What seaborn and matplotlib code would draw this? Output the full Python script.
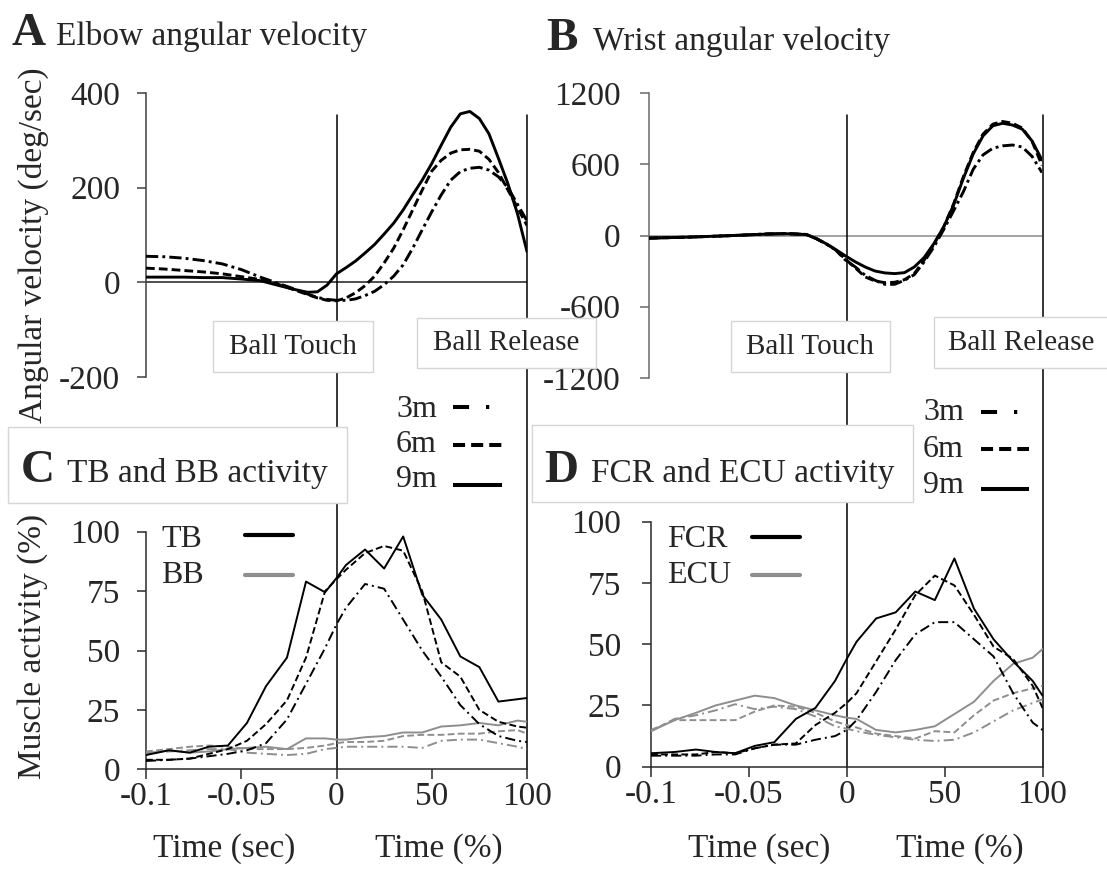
import matplotlib
matplotlib.use("Agg")
import matplotlib.pyplot as plt
import pandas as pd
import seaborn as sns
from matplotlib.patches import Rectangle
from matplotlib.lines import Line2D
from matplotlib.transforms import blended_transform_factory

sns.set_theme(style="white")
plt.rcParams["font.family"] = ["Liberation Serif", "DejaVu Serif"]
plt.rcParams["axes.unicode_minus"] = False
plt.rcParams["axes.facecolor"] = "none"

# ---------------- data ----------------
# time axis: negative part = seconds before ball touch (x1000, so -100 = -0.1 s),
# 0..100 = % of the phase between ball touch and ball release
distances = ["3m", "6m", "9m"]
event_times = [0, 100]
event_labels = ["Ball Touch", "Ball Release"]

vel_time = [-100, -90, -80, -70, -60, -50, -40, -30, -20, -15, -10, -5,
            0, 5, 10, 15, 20, 25, 30, 35, 40, 45, 50, 55, 60, 65, 70, 75, 80, 85, 90, 95, 100]

elbow_3m = [55, 54, 51, 46, 39, 27, 11, -3, -17, -25, -32, -36,
            -38, -38, -35, -28, -19, -5, 13, 37, 72, 111, 149, 185, 216, 234, 241, 243, 237, 223, 200, 165, 130]
elbow_6m = [30, 28, 25, 22, 18, 12, 6, -5, -19, -26, -33, -38,
            -39, -33, -22, -7, 13, 41, 72, 111, 153, 195, 235, 258, 273, 280, 281, 277, 260, 232, 195, 158, 120]
elbow_9m = [11, 11, 11, 10, 10, 7, 3.5, -7, -17, -21, -20, -6,
            18, 31, 45, 62, 80, 102, 125, 153, 185, 216, 251, 290, 328, 356, 361, 346, 314, 262, 208, 145, 65]

wrist_3m = [-22, -18, -14, -8, -2, 5, 13, 16, 9, -26, -70, -122,
            -208, -265, -335, -377, -411, -411, -377, -330, -222, -96, 51, 208, 369, 558, 679, 735, 755, 762, 745, 665, 530]
wrist_6m = [-22, -18, -14, -8, -2, 5, 13, 16, 9, -24, -68, -120,
            -200, -273, -349, -383, -397, -394, -372, -321, -208, -73, 73, 265, 496, 699, 854, 938, 960, 945, 905, 790, 590]
wrist_9m = [-22, -18, -14, -8, -2, 5, 12, 15, 8, -25, -68, -118,
            -172, -222, -265, -299, -315, -321, -313, -265, -186, -68, 73, 256, 482, 687, 839, 924, 945, 930, 895, 795, 635]

emg_time = [-100, -88, -77, -67, -57, -47, -37, -26, -16, -6, 0,
            5, 15, 25, 35, 45, 55, 65, 75, 85, 95, 100]

tb_3m = [3.5, 4, 4.5, 5.5, 6.5, 8, 11, 21, 36, 51, 61, 68, 78, 76, 63, 50, 39, 27, 19, 14, 12, 11.5]
tb_6m = [4, 4, 4.5, 6.5, 8.5, 12, 19, 29, 47, 75, 80, 84, 91, 94, 92, 75, 45, 39, 25, 20, 18, 17.5]
tb_9m = [6, 8, 7, 9.5, 10, 19.5, 35, 47, 79, 74.5, 80.5, 86, 92.5, 84.5, 98, 73.5, 63, 47.5, 43, 28.5, 29.5, 30]
bb_3m = [7, 7.5, 8, 8.5, 8.5, 7, 6.5, 6, 6.5, 8.5, 9, 9.5, 9.5, 9.5, 9.5, 9, 12, 12.5, 12.5, 11, 9.5, 8.5]
bb_6m = [7.5, 8.5, 9.5, 10, 9.5, 8.5, 8.5, 8.5, 9, 10, 11, 11.5, 11.5, 12, 14, 14.5, 14.5, 15, 15, 16, 16.5, 15]
bb_9m = [6.5, 8, 7, 7.5, 8.5, 9, 9.5, 8.5, 13, 13, 12.5, 12.5, 13.5, 14, 15.5, 15.5, 18, 18.5, 19.5, 18.5, 20.5, 20]

fcr_3m = [4.5, 4.5, 4.5, 5, 5, 7.5, 9, 9, 11, 12.5, 15, 19, 30.5, 43.5, 54, 59, 59, 52, 45, 30, 18, 15]
fcr_6m = [5, 5, 5, 6, 5.5, 7.5, 9, 9.5, 17, 22, 26, 30, 43, 56, 70, 78, 74, 62, 49, 44, 33, 24]
fcr_9m = [5.5, 6, 7, 6, 5.5, 8.5, 10, 19.5, 24, 35, 44, 51, 60.5, 63, 71.5, 68, 85, 64.5, 52, 43, 35, 29]
ecu_3m = [14.5, 19.5, 21, 23, 25.5, 23.5, 24.5, 23.5, 20.5, 16.5, 15.5, 14.5, 13, 12, 11, 10.5, 11, 14, 18.5, 23, 26, 27.5]
ecu_6m = [15, 19, 19, 19, 19, 22.5, 25, 24.5, 22, 18.5, 17, 16, 13.5, 12.5, 11.5, 14.5, 14, 21, 27, 30, 32, 33]
ecu_9m = [14.5, 19, 22, 25, 27, 29, 28, 25, 23, 21, 20, 19.5, 15, 14, 15, 16.5, 21.5, 26.5, 35, 42, 44.5, 48]

vel_ticks = {"A": [-200, 0, 200, 400], "B": [-1200, -600, 0, 600, 1200]}
emg_yticks = [0, 25, 50, 75, 100]
emg_xticks = [-100, -50, 0, 50, 100]
emg_xticklabels = ["-0.1", "-0.05", "0", "50", "100"]

# ---------------- styles ----------------
GREY = "#8e8e8e"
vel_dashes = {"3m": (4.2, 1.4, 1.0, 1.4), "6m": (3.0, 1.4), "9m": ""}
emg_dashes = {"3m": (5.2, 2.1, 1.0, 2.1), "6m": (3.5, 1.7), "9m": ""}

W, H = 1107, 869
fig = plt.figure(figsize=(W / 100, H / 100), dpi=100)
fig.patch.set_facecolor("white")


def fx(px):
    return px / W


def fy(py):
    return 1 - py / H


def add_axes_px(l, t, r, b):
    return fig.add_axes([fx(l), fy(b), fx(r) - fx(l), fy(t) - fy(b)])


axA = add_axes_px(146, 93, 527, 377)
axB = add_axes_px(649, 93, 1042, 378)
axC = add_axes_px(146, 531.7, 527, 769.3)
axD = add_axes_px(651, 521.7, 1042.5, 766.7)


def vel_frame(series):
    return pd.concat([pd.DataFrame({"time": vel_time, "value": v, "distance": k})
                      for k, v in series.items()], ignore_index=True)


def emg_frame(series):
    return pd.concat([pd.DataFrame({"time": emg_time, "value": v, "muscle": m, "distance": k})
                      for (m, k), v in series.items()], ignore_index=True)


elbow_df = vel_frame({"3m": elbow_3m, "6m": elbow_6m, "9m": elbow_9m})
wrist_df = vel_frame({"3m": wrist_3m, "6m": wrist_6m, "9m": wrist_9m})
elbow_emg = emg_frame({("TB", "3m"): tb_3m, ("TB", "6m"): tb_6m, ("TB", "9m"): tb_9m,
                       ("BB", "3m"): bb_3m, ("BB", "6m"): bb_6m, ("BB", "9m"): bb_9m})
wrist_emg = emg_frame({("FCR", "3m"): fcr_3m, ("FCR", "6m"): fcr_6m, ("FCR", "9m"): fcr_9m,
                       ("ECU", "3m"): ecu_3m, ("ECU", "6m"): ecu_6m, ("ECU", "9m"): ecu_9m})

# ---- velocity panels ----
for ax, df, key, lim, zcol, scol, pad in [(axA, elbow_df, "A", (-200, 400), "#1e1e1e", "#404040", 12),
                                           (axB, wrist_df, "B", (-1200, 1200), "#8a8a8a", "#6a6a6a", 14)]:
    ax.axhline(0, color=zcol, lw=1.1, zorder=1)
    sns.lineplot(data=df, x="time", y="value", style="distance", style_order=distances,
                 dashes=vel_dashes, color="black", linewidth=2.1, estimator=None,
                 legend=False, ax=ax, zorder=3)
    ax.set_xlim(-100, 100)
    ax.set_ylim(*lim)
    ax.set_xticks([])
    ax.set_yticks(vel_ticks[key], labels=[str(t) for t in vel_ticks[key]])
    ax.set_xlabel("")
    ax.set_ylabel("")
    for s in ("top", "right", "bottom"):
        ax.spines[s].set_visible(False)
    ax.spines["left"].set_color(scol)
    ax.spines["left"].set_linewidth(1.1)
    ax.tick_params(axis="y", direction="out", length=6.5, width=1.1, color=scol,
                   labelsize=24, pad=pad, left=True)

# ---- EMG panels ----
for ax, df, order, pal, pad in [(axC, elbow_emg, ["BB", "TB"], {"TB": "black", "BB": GREY}, 12),
                                (axD, wrist_emg, ["ECU", "FCR"], {"FCR": "black", "ECU": GREY}, 15)]:
    sns.lineplot(data=df, x="time", y="value", hue="muscle", hue_order=order, palette=pal,
                 style="distance", style_order=distances, dashes=emg_dashes,
                 linewidth=1.4, estimator=None, legend=False, ax=ax, zorder=3)
    ax.set_xlim(-100, 100)
    ax.set_ylim(0, 100)
    ax.set_yticks(emg_yticks, labels=[str(t) for t in emg_yticks])
    ax.set_xticks(emg_xticks, labels=emg_xticklabels)
    ax.set_xlabel("")
    ax.set_ylabel("")
    for s in ("top", "right"):
        ax.spines[s].set_visible(False)
    for s in ("left", "bottom"):
        ax.spines[s].set_color("#2a2a2a")
        ax.spines[s].set_linewidth(1.1)
    ax.tick_params(axis="y", direction="out", length=6.5, width=1.1, color="#2a2a2a",
                   labelsize=24, pad=pad, left=True)
    ax.tick_params(axis="x", direction="out", length=7, width=1.1, color="#2a2a2a",
                   labelsize=24, pad=2, bottom=True)
    # event lines spanning the velocity panel above and the EMG panel
    trans = blended_transform_factory(ax.transData, fig.transFigure)
    y_bottom = ax.get_position().y0
    for t in event_times:
        ax.plot([t, t], [y_bottom, fy(115)], transform=trans, color="black", lw=1.1,
                clip_on=False, zorder=2)

# ---- boxes with text ----
def box_text(l, t, r, b, edge="#d6d6d6"):
    fig.add_artist(Rectangle((fx(l), fy(b)), fx(r) - fx(l), fy(t) - fy(b), transform=fig.transFigure,
                             facecolor="white", edgecolor=edge, lw=1.0, zorder=5))


# event label boxes
for (l, t, r, b), cx, lab in [((213, 321, 373, 372), 293, event_labels[0]),
                              ((417, 318, 596, 368), 506.5, event_labels[1]),
                              ((730.5, 321, 890, 372), 810, event_labels[0]),
                              ((933.5, 317, 1112, 368), 1021, event_labels[1])]:
    box_text(l, t, r, b)
    fig.text(fx(cx), fy((t + b) / 2), lab, ha="center", va="center", fontsize=21, zorder=6)

# panel titles
fig.text(fx(12), fy(45), "A", fontsize=34, fontweight="bold", ha="left", va="baseline", zorder=6)
fig.text(fx(56), fy(45), "Elbow angular velocity", fontsize=24, ha="left", va="baseline", zorder=6)
fig.text(fx(546), fy(50), "B", fontsize=34, fontweight="bold", ha="left", va="baseline", zorder=6)
fig.text(fx(593), fy(50), "Wrist angular velocity", fontsize=24, ha="left", va="baseline", zorder=6)

box_text(8, 427, 347, 503)
fig.text(fx(21), fy(481.7), "C", fontsize=34, fontweight="bold", ha="left", va="baseline", zorder=6)
fig.text(fx(67), fy(481.7), "TB and BB activity", fontsize=24, ha="left", va="baseline", zorder=6)
box_text(532, 425, 913, 502)
fig.text(fx(544), fy(481.7), "D", fontsize=34, fontweight="bold", ha="left", va="baseline", zorder=6)
fig.text(fx(591), fy(481.7), "FCR and ECU activity", fontsize=24, ha="left", va="baseline", zorder=6)

# axis labels
fig.text(fx(33), fy(245), "Angular velocity (deg/sec)", rotation=90, fontsize=24,
         ha="center", va="center", zorder=6)
fig.text(fx(33), fy(646), "Muscle activity (%)", rotation=90, fontsize=24,
         ha="center", va="center", zorder=6)
for cx, lab in [(224, "Time (sec)"), (438.5, "Time (%)"), (759, "Time (sec)"), (960, "Time (%)")]:
    fig.text(fx(cx), fy(857), lab, fontsize=24, ha="center", va="baseline", zorder=6)

# distance legends
leg_dash = {"3m": (0, (4.0, 4.2, 0.8, 10)), "6m": (0, (3.0, 1.5)), "9m": "-"}
for tx, lx0, lx1, rows in [(396, 453, 502, [(417.3, 406.7), (451.7, 445), (486.7, 485)]),
                           (923, 980.5, 1029, [(420, 411.7), (456.7, 449), (493, 489.3)])]:
    for d, (base, ly) in zip(distances, rows):
        fig.text(fx(tx), fy(base), d, fontsize=23, ha="left", va="baseline", zorder=6)
        fig.add_artist(Line2D([fx(lx0), fx(lx1)], [fy(ly), fy(ly)], transform=fig.transFigure,
                              color="black", lw=2.9, linestyle=leg_dash[d], zorder=6,
                              solid_capstyle="butt", dash_capstyle="butt"))

# muscle legends
for tx, lx0, lx1, rows in [(161, 245, 293, [("TB", "black", 546.7, 535), ("BB", GREY, 582.7, 575)]),
                           (667, 752, 800, [("FCR", "black", 546.7, 537.3), ("ECU", GREY, 583.3, 575)])]:
    for lab, col, base, ly in rows:
        fig.text(fx(tx), fy(base), lab, fontsize=23, ha="left", va="baseline", zorder=6)
        fig.add_artist(Line2D([fx(lx0), fx(lx1)], [fy(ly), fy(ly)], transform=fig.transFigure,
                              color=col, lw=3.0, solid_capstyle="round", zorder=6))

fig.savefig("out.png", dpi=100, facecolor="white")
